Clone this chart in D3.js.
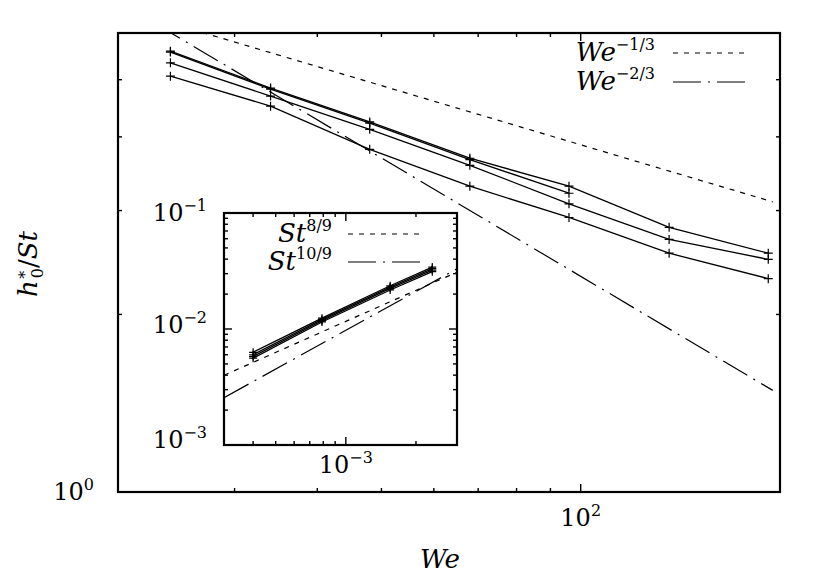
<!DOCTYPE html>
<html>
<head>
<meta charset="utf-8">
<script src="https://cdn.jsdelivr.net/npm/d3@7"></script>
<style>
  body{margin:0;background:#fff;}
  svg text{font-family:'DejaVu Serif','Liberation Serif','Times New Roman',serif;fill:#000;}
</style>
</head>
<body>
<svg id="chart" width="830" height="581" font-family="DejaVu Serif, Liberation Serif, serif"></svg>
<script>
// main plot: h0*/St vs We
const weValues = [24, 34, 48, 68, 96, 136, 192];
const seriesA = [5.59, 4.84, 4.24, 3.68, 3.30, 2.81, 2.54];
const seriesB = [5.57, 4.82, 4.22, 3.66, 3.21];
const seriesC = [5.34, 4.69, 4.12, 3.58, 3.08, 2.68, 2.48];
const seriesD = [5.07, 4.51, 3.81, 3.30, 2.92, 2.54, 2.30];

// power-law guides: coef * We^exp
const mainRefExp = [-1/3, -2/3];
const mainRefCoef = [18, 50];
const mainRefLabel = ["−1/3", "−2/3"];
const mainRefRange = [20, 195];

// inset: h0* vs St
const stValues = [4.0e-4, 7.9e-4, 1.55e-3, 2.35e-3];
const insetA = [6.3e-3, 1.24e-2, 2.36e-2, 3.42e-2];
const insetB = [6.0e-3, 1.21e-2, 2.30e-2, 3.32e-2];
const insetC = [5.8e-3, 1.18e-2, 2.24e-2, 3.22e-2];
const insetD = [5.6e-3, 1.15e-2, 2.17e-2, 3.12e-2];

const insetRefExp = [8/9, 10/9];
const insetRefCoef = [5.4, 21];
const insetRefLabel = ["8/9", "10/9"];
const insetRefRange = [3e-4, 3e-3];

const mainXTicksMajor = [100], mainXTicksMinor = [30,40,50,60,70,80,90];
const mainYTicksMinor = [2,3,4,5];
const insetXTicksMajor = [1e-3], insetXTicksMinor = [4e-4,5e-4,6e-4,7e-4,8e-4,9e-4,2e-3];
const insetYTicksMajor = [1e-2], insetYTicksMinor = [2e-3,3e-3,4e-3,5e-3,6e-3,7e-3,8e-3,9e-3,2e-2,3e-2,4e-2,5e-2,6e-2,7e-2,8e-2,9e-2];

const dashStyles = ["5,6", "28,7,2,7"];
const FONT = "'DejaVu Serif','Liberation Serif',serif";

const svg = d3.select("#chart");

function powLabel(g, x, y, base, exp, anchor){
  const t = g.append("text").attr("x", x).attr("y", y).attr("font-family", FONT)
    .attr("text-anchor", anchor).attr("font-size", 24);
  t.append("tspan").text(base);
  t.append("tspan").attr("dy", -10).attr("font-size", 16).text(exp);
  return t;
}

function frameTicks(g, x, y, xMaj, xMin, yMaj, yMin, majLen, minLen){
  const [x0,x1] = x.range(), [y0,y1] = y.range();
  const tk = g.append("g").attr("stroke","#000").attr("stroke-width",1.4);
  xMaj.forEach(v=>{ tk.append("line").attr("x1",x(v)).attr("x2",x(v)).attr("y1",y0).attr("y2",y0-majLen);
                    tk.append("line").attr("x1",x(v)).attr("x2",x(v)).attr("y1",y1).attr("y2",y1+majLen); });
  xMin.forEach(v=>{ tk.append("line").attr("x1",x(v)).attr("x2",x(v)).attr("y1",y0).attr("y2",y0-minLen);
                    tk.append("line").attr("x1",x(v)).attr("x2",x(v)).attr("y1",y1).attr("y2",y1+minLen); });
  yMaj.forEach(v=>{ tk.append("line").attr("y1",y(v)).attr("y2",y(v)).attr("x1",x0).attr("x2",x0+majLen);
                    tk.append("line").attr("y1",y(v)).attr("y2",y(v)).attr("x1",x1).attr("x2",x1-majLen); });
  yMin.forEach(v=>{ tk.append("line").attr("y1",y(v)).attr("y2",y(v)).attr("x1",x0).attr("x2",x0+minLen);
                    tk.append("line").attr("y1",y(v)).attr("y2",y(v)).attr("x1",x1).attr("x2",x1-minLen); });
}

function drawSeries(g, x, y, xs, ys, sz){
  const pts = ys.map((v,i)=>[xs[i], v]);
  g.append("path")
    .attr("d", d3.line().x(d=>x(d[0])).y(d=>y(d[1]))(pts))
    .attr("fill","none").attr("stroke","#000").attr("stroke-width",1.3);
  pts.forEach(d=>{
    const cx = x(d[0]), cy = y(d[1]);
    g.append("path").attr("d", `M${cx-sz},${cy}H${cx+sz}M${cx},${cy-sz}V${cy+sz}`)
      .attr("stroke","#000").attr("stroke-width",1.2);
  });
}

function drawRefs(g, x, y, exps, coefs, range, clipId){
  exps.forEach((p,i)=>{
    const pts = range.map(v=>[v, coefs[i]*Math.pow(v,p)]);
    g.append("path")
      .attr("clip-path", `url(#${clipId})`)
      .attr("d", d3.line().x(d=>x(d[0])).y(d=>y(d[1]))(pts))
      .attr("fill","none").attr("stroke","#000").attr("stroke-width",1.2)
      .attr("stroke-dasharray", dashStyles[i]);
  });
}

function mathLabel(g, x, y, base, exp){
  const t = g.append("text").attr("x",x).attr("y",y).attr("text-anchor","end")
    .attr("font-family", FONT).attr("font-size",26);
  t.append("tspan").attr("font-style","italic").text(base);
  t.append("tspan").attr("dy",-11).attr("font-size",16).text(exp);
}

// ---------- main plot ----------
const x = d3.scaleLog().domain([20,200]).range([118,780]);
const y = d3.scaleLog().domain([1,6]).range([492,33]);

const defs = svg.append("defs");
defs.append("clipPath").attr("id","clipMain").append("rect")
  .attr("x",118).attr("y",33).attr("width",662).attr("height",459);

const gMain = svg.append("g");
drawRefs(gMain, x, y, mainRefExp, mainRefCoef, mainRefRange, "clipMain");
[seriesA, seriesB, seriesC, seriesD].forEach(s=> drawSeries(gMain, x, y, weValues, s, 4.5));

frameTicks(gMain, x, y, mainXTicksMajor, mainXTicksMinor, [], mainYTicksMinor, 8, 4);
gMain.append("rect").attr("x",118).attr("y",33).attr("width",662).attr("height",459)
  .attr("fill","none").attr("stroke","#000").attr("stroke-width",2.2);

powLabel(gMain, 94, y(1)+8, "10", "0", "end");
powLabel(gMain, x(100), 526, "10", "2", "middle");

// legend main
mainRefLabel.forEach((lab,i)=>{
  const ly = 53 + i*29;
  mathLabel(gMain, 655, ly+8, "We", lab);
  gMain.append("line").attr("x1",673).attr("x2",747).attr("y1",ly).attr("y2",ly)
    .attr("stroke","#000").attr("stroke-width",1.2).attr("stroke-dasharray", dashStyles[i]);
});

// axis titles
gMain.append("text").attr("x",440).attr("y",568).attr("text-anchor","middle").attr("font-family", FONT)
  .attr("font-size",26).attr("font-style","italic").text("We");

const yt = svg.append("text").attr("transform","translate(37,264) rotate(-90)")
  .attr("text-anchor","middle").attr("font-family", FONT).attr("font-size",26);
yt.append("tspan").attr("font-style","italic").text("h");
yt.append("tspan").attr("dy",-10).attr("font-size",16).text("∗");
yt.append("tspan").attr("dx",-9).attr("dy",16).attr("font-size",16).text("0");
yt.append("tspan").attr("dy",-6).text("/");
yt.append("tspan").attr("font-style","italic").text("St");

// ---------- inset ----------
const ix = d3.scaleLog().domain([3e-4,3e-3]).range([224,457]);
const iy = d3.scaleLog().domain([1e-3,1e-1]).range([445,213]);

defs.append("clipPath").attr("id","clipInset").append("rect")
  .attr("x",224).attr("y",213).attr("width",233).attr("height",232);

const gIn = svg.append("g");
gIn.append("rect").attr("x",224).attr("y",213).attr("width",233).attr("height",232).attr("fill","#fff");
drawRefs(gIn, ix, iy, insetRefExp, insetRefCoef, insetRefRange, "clipInset");
[insetA, insetB, insetC, insetD].forEach(s=> drawSeries(gIn, ix, iy, stValues, s, 4));

frameTicks(gIn, ix, iy, insetXTicksMajor, insetXTicksMinor, insetYTicksMajor, insetYTicksMinor, 8, 4);
gIn.append("rect").attr("x",224).attr("y",213).attr("width",233).attr("height",232)
  .attr("fill","none").attr("stroke","#000").attr("stroke-width",2.2);

powLabel(gIn, 207, iy(1e-1)+8, "10", "−1", "end");
powLabel(gIn, 207, iy(1e-2)+4, "10", "−2", "end");
powLabel(gIn, 207, iy(1e-3)+3, "10", "−3", "end");
powLabel(gIn, ix(1e-3), 473, "10", "−3", "middle");

// legend inset
insetRefLabel.forEach((lab,i)=>{
  const ly = 234 + i*28;
  mathLabel(gIn, 332, ly+8, "St", lab);
  gIn.append("line").attr("x1",348).attr("x2",423).attr("y1",ly).attr("y2",ly)
    .attr("stroke","#000").attr("stroke-width",1.2).attr("stroke-dasharray", dashStyles[i]);
});
</script>
</body>
</html>
